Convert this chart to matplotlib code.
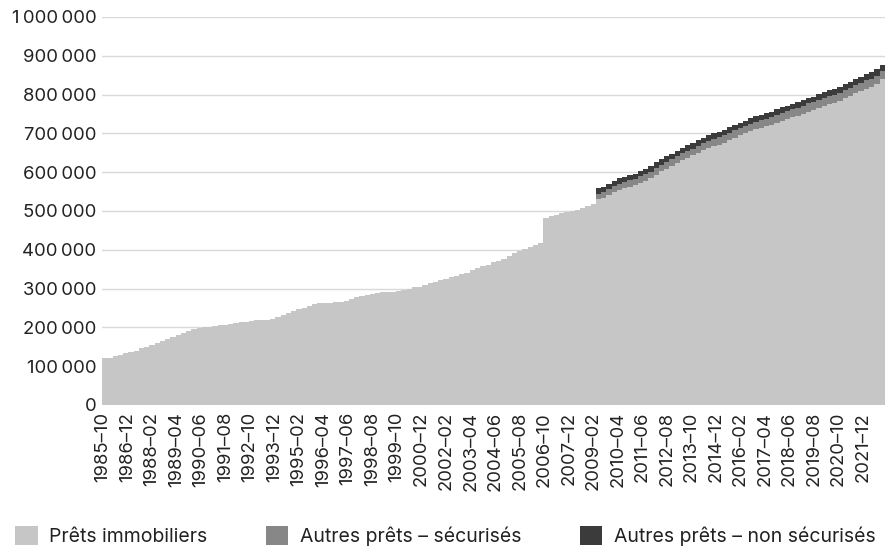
import numpy as np
import pandas as pd
import matplotlib
matplotlib.use("Agg")
import matplotlib.pyplot as plt
from matplotlib.patches import Patch

plt.rcParams['font.family'] = ['Inter', 'DejaVu Sans']

# Quarterly values (1985Q4 .. 2022Q4), shown on a monthly category axis
first_month = "1985-10"
n_months = 447

immobiliers = [
    120, 120, 126, 129, 133, 136, 140, 146, 150, 155, 159, 165, 170, 176, 181, 186,
    190, 195, 199, 201, 202, 204, 205, 207, 209, 212, 215, 215, 216, 219, 219, 219,
    222, 226, 231, 237, 242, 247, 251, 255, 259, 263, 264, 264, 265, 265, 269, 274,
    278, 281, 284, 286, 288, 290, 291, 291, 294, 297, 300, 303, 305, 309, 314, 318,
    322, 325, 329, 333, 337, 341, 347, 352, 357, 362, 368, 372, 376, 385, 392, 398,
    403, 408, 412, 417, 482, 486, 490, 494, 497, 500, 503, 507, 512, 519,
    531, 534, 541, 549, 555, 558, 563, 566, 573, 578, 584, 594, 602, 609, 616, 623,
    631, 637, 643, 650, 656, 662, 667, 671, 676, 683, 689, 695, 700, 706, 711, 714,
    718, 722, 728, 733, 737, 742, 746, 751, 756, 760, 765, 770, 775, 779, 784, 790,
    796, 803, 808, 815, 819, 827, 839,
]
# secured / unsecured other loans start in 2009Q2
first_split_q = 94
autres_secur = [
    14, 14, 15, 15, 15, 16, 16, 16, 16, 17, 17, 17, 17, 18, 18, 18, 18, 18, 18, 18,
    19, 19, 19, 19, 19, 19, 19, 19, 19, 19, 19, 20, 20, 20, 20, 20, 20, 20, 20, 20,
    21, 21, 21, 21, 21, 21, 21, 21, 22, 22, 22, 22, 22, 22, 22,
]
autres_non_secur = [
    15, 15, 14, 14, 14, 14, 14, 14, 14, 14, 14, 14, 14, 14, 14, 14, 14, 14, 14, 14,
    14, 14, 14, 14, 14, 14, 14, 14, 14, 14, 14, 14, 14, 14, 14, 14, 14, 14, 14, 14,
    14, 14, 15, 15, 15, 15, 15, 15, 15, 15, 15, 16, 16, 16, 16,
]
series_names = ["Prêts immobiliers", "Autres prêts – sécurisés", "Autres prêts – non sécurisés"]
colors = ["#c6c6c6", "#878787", "#3b3b3b"]

months = pd.period_range(first_month, periods=n_months, freq="M").strftime("%Y\u2013%m")
tick_step = 14

imm = np.array(immobiliers) * 1000
sec = np.array(autres_secur) * 1000
non = np.array(autres_non_secur) * 1000
q_left = np.arange(len(imm)) * 3 - 0.5
q_split = q_left[first_split_q:]

fig = plt.figure(figsize=(8.91, 5.47), dpi=100)
ax = fig.add_axes([0.1145, 0.2596, 0.8785, 0.7094])

ax.bar(q_left, imm, width=3, align="edge", color=colors[0], linewidth=0)
ax.bar(q_split, sec, width=3, align="edge", bottom=imm[first_split_q:], color=colors[1], linewidth=0)
ax.bar(q_split, non, width=3, align="edge", bottom=imm[first_split_q:] + sec, color=colors[2], linewidth=0)

ax.set_xlim(-0.5, n_months - 0.5)
ax.set_ylim(0, 1000000)
ax.set_yticks(np.arange(0, 1000001, 100000))
ax.yaxis.set_major_formatter(plt.FuncFormatter(lambda v, p: f"{int(v):,}".replace(",", "\u2009")))
ax.set_xticks(np.arange(0, n_months, tick_step))
ax.set_xticklabels(months[::tick_step], rotation=90)
ax.tick_params(axis="both", length=0, labelsize=13.3, colors="#222222")
ax.tick_params(axis="x", pad=5)
ax.tick_params(axis="y", pad=4)
ax.grid(axis="y", color="#d9d9d9", linewidth=1)
ax.set_axisbelow(True)
for s in ax.spines.values():
    s.set_visible(False)

handles = [Patch(facecolor=c, edgecolor="none") for c in colors]
fig.legend(handles, series_names, loc="lower center", bbox_to_anchor=(0.5, -0.03), ncol=3,
           frameon=False, fontsize=14, handlelength=1.15, handleheight=1.15,
           columnspacing=3.0, handletextpad=0.6, labelcolor="#222222")

fig.savefig("out.png", dpi=100)
